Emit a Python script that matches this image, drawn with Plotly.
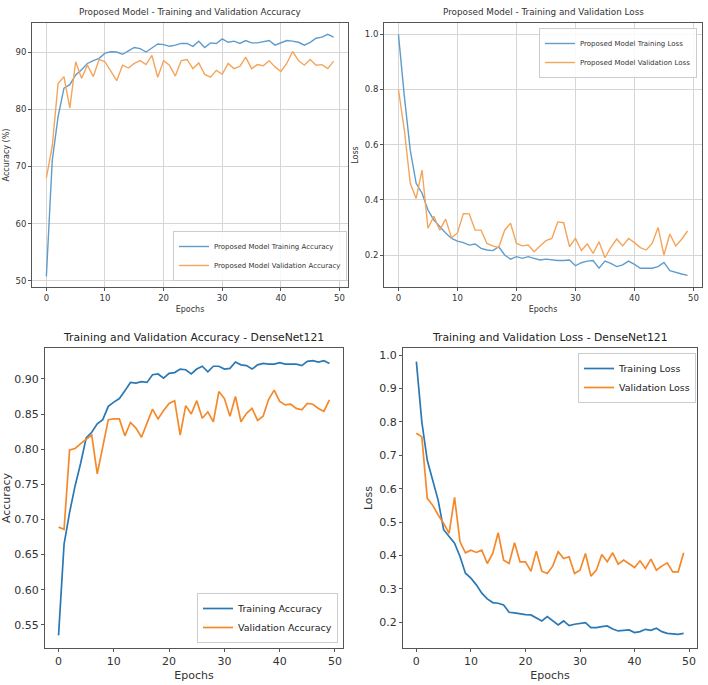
import plotly.graph_objects as go

epochs = list(range(50))

# Proposed model accuracy (%)
pm_train_acc = [50.8, 71.0, 78.7, 83.7, 84.3, 86.0, 86.9, 88.0, 88.5, 88.9,
                89.8, 90.05, 90.0, 89.6, 90.2, 90.8, 90.6, 90.0, 90.7, 91.4,
                91.3, 91.0, 91.2, 91.5, 91.5, 91.0, 91.9, 90.8, 91.6, 91.5,
                92.3, 91.7, 91.9, 91.5, 92.0, 91.6, 91.6, 91.8, 92.0, 91.2,
                91.6, 92.0, 91.9, 91.7, 91.2, 91.7, 92.4, 92.6, 93.1, 92.6]
pm_val_acc = [68.0, 73.5, 84.5, 85.7, 80.2, 88.3, 85.4, 87.7, 85.7, 88.7,
              88.3, 86.6, 85.0, 87.7, 87.2, 88.0, 88.5, 87.8, 89.4, 85.6,
              88.5, 87.7, 85.8, 88.5, 88.7, 87.1, 88.1, 86.1, 85.6, 86.8,
              86.1, 88.0, 87.1, 87.5, 89.1, 87.1, 87.8, 87.6, 88.5, 87.4,
              86.6, 88.0, 90.1, 88.5, 87.7, 88.7, 87.7, 87.8, 87.1, 88.4]

# Proposed model loss
pm_train_loss = [1.0, 0.775, 0.58, 0.46, 0.424, 0.363, 0.327, 0.303, 0.28, 0.26,
                 0.25, 0.245, 0.236, 0.24, 0.224, 0.218, 0.216, 0.23, 0.2, 0.185,
                 0.194, 0.188, 0.194, 0.188, 0.182, 0.185, 0.182, 0.18, 0.18, 0.182,
                 0.161, 0.172, 0.178, 0.18, 0.152, 0.178, 0.17, 0.158, 0.164, 0.178,
                 0.166, 0.152, 0.152, 0.152, 0.158, 0.173, 0.143, 0.136, 0.131, 0.126]
pm_val_loss = [0.8, 0.653, 0.46, 0.405, 0.508, 0.297, 0.34, 0.29, 0.33, 0.262,
               0.28, 0.35, 0.349, 0.29, 0.29, 0.242, 0.233, 0.227, 0.29, 0.315,
               0.242, 0.233, 0.236, 0.212, 0.233, 0.252, 0.26, 0.32, 0.317, 0.23,
               0.26, 0.216, 0.24, 0.206, 0.248, 0.19, 0.228, 0.258, 0.233, 0.26,
               0.245, 0.227, 0.218, 0.242, 0.3, 0.2, 0.276, 0.233, 0.257, 0.287]

# DenseNet121 accuracy
dn_train_acc = [0.535, 0.665, 0.71, 0.748, 0.78, 0.816, 0.824, 0.836, 0.842, 0.861,
                0.867, 0.872, 0.883, 0.895, 0.894, 0.896, 0.895, 0.906, 0.907, 0.901,
                0.908, 0.909, 0.914, 0.913, 0.907, 0.914, 0.918, 0.910, 0.918, 0.918,
                0.914, 0.915, 0.924, 0.920, 0.919, 0.914, 0.920, 0.922, 0.921, 0.921,
                0.923, 0.921, 0.921, 0.921, 0.919, 0.925, 0.926, 0.924, 0.926, 0.922]
dn_val_acc = [0.689, 0.686, 0.799, 0.801, 0.808, 0.814, 0.82, 0.765, 0.803, 0.842,
              0.843, 0.843, 0.819, 0.838, 0.83, 0.817, 0.837, 0.857, 0.843, 0.855,
              0.865, 0.869, 0.82, 0.862, 0.85, 0.869, 0.844, 0.853, 0.839, 0.882,
              0.872, 0.847, 0.875, 0.839, 0.851, 0.858, 0.841, 0.847, 0.871, 0.884,
              0.868, 0.863, 0.864, 0.858, 0.856, 0.865, 0.864, 0.858, 0.854, 0.870]

# DenseNet121 loss
dn_train_loss = [0.98, 0.80, 0.685, 0.625, 0.565, 0.477, 0.457, 0.437, 0.397, 0.347,
                 0.332, 0.312, 0.287, 0.27, 0.259, 0.257, 0.252, 0.23, 0.228, 0.225,
                 0.223, 0.222, 0.212, 0.204, 0.217, 0.205, 0.192, 0.204, 0.19, 0.194,
                 0.197, 0.199, 0.184, 0.184, 0.187, 0.189, 0.18, 0.174, 0.176, 0.177,
                 0.169, 0.172, 0.179, 0.176, 0.182, 0.172, 0.167, 0.165, 0.164, 0.167]
dn_val_loss = [0.766, 0.755, 0.571, 0.55, 0.521, 0.496, 0.466, 0.574, 0.441, 0.408,
               0.416, 0.409, 0.416, 0.376, 0.406, 0.468, 0.386, 0.376, 0.438, 0.381,
               0.381, 0.353, 0.413, 0.353, 0.346, 0.368, 0.411, 0.391, 0.396, 0.346,
               0.356, 0.406, 0.338, 0.356, 0.403, 0.381, 0.408, 0.374, 0.386, 0.374,
               0.364, 0.384, 0.361, 0.389, 0.356, 0.368, 0.378, 0.351, 0.351, 0.408]

W, H = 708, 685
def dx(a, b): return [a / W, b / W]
def dy(top, bottom): return [1 - bottom / H, 1 - top / H]

TOP_BLUE, TOP_ORANGE = "#5f9ccc", "#f5a55a"
BLUE, ORANGE = "#2a78b4", "#f5892a"
FONT = "DejaVu Sans"

fig = go.Figure()

def add(x, y, name, color, xa, ya, legend, width):
    fig.add_trace(go.Scatter(x=x, y=y, mode="lines", name=name,
                             line=dict(color=color, width=width),
                             xaxis=xa, yaxis=ya, legend=legend))

add(epochs, pm_train_acc, "Proposed Model Training Accuracy", TOP_BLUE, "x", "y", "legend", 1.4)
add(epochs, pm_val_acc, "Proposed Model Validation Accuracy", TOP_ORANGE, "x", "y", "legend", 1.4)
add(epochs, pm_train_loss, "Proposed Model Training Loss", TOP_BLUE, "x2", "y2", "legend2", 1.4)
add(epochs, pm_val_loss, "Proposed Model Validation Loss", TOP_ORANGE, "x2", "y2", "legend2", 1.4)
add(epochs, dn_train_acc, "Training Accuracy", BLUE, "x3", "y3", "legend3", 1.7)
add(epochs, dn_val_acc, "Validation Accuracy", ORANGE, "x3", "y3", "legend3", 1.7)
add(epochs, dn_train_loss, "Training Loss", BLUE, "x4", "y4", "legend4", 1.7)
add(epochs, dn_val_loss, "Validation Loss", ORANGE, "x4", "y4", "legend4", 1.7)

def axis(domain, anchor, rng, dtick, grid, fs, title, tickformat=None, tick0=None, tfs=None):
    d = dict(domain=domain, anchor=anchor, range=rng, dtick=dtick,
             showgrid=grid, gridcolor="#d6d6d6", gridwidth=1,
             showline=True, linecolor="#555555", linewidth=1, mirror=True,
             ticks="outside", ticklen=3, tickcolor="#555555",
             tickfont=dict(family=FONT, size=fs, color="#333333"),
             zeroline=False,
             title=dict(text=title, font=dict(family=FONT, size=tfs or fs, color="#333333"), standoff=4))
    if tickformat:
        d["tickformat"] = tickformat
    if tick0 is not None:
        d["tick0"] = tick0
    return d

top_y = (23, 287)
bot_y = (348, 648)

def legend(x, y, xanchor, yanchor, size, color):
    return dict(x=x, y=y, xanchor=xanchor, yanchor=yanchor,
                bgcolor="rgba(255,255,255,0.85)", bordercolor="#cccccc", borderwidth=1,
                font=dict(family=FONT, size=size, color=color), itemwidth=30,
                tracegroupgap=0)

fig.update_layout(
    width=W, height=H, margin=dict(l=0, r=0, t=0, b=0),
    paper_bgcolor="white", plot_bgcolor="white",
    font=dict(family=FONT),
    xaxis=axis(dx(32, 348), "y", [-2.45, 51.45], 10, True, 8.5, "Epochs", tfs=8),
    yaxis=axis(dy(*top_y), "x", [48.95, 95.07], 10, True, 8.5, "Accuracy (%)", tfs=8),
    xaxis2=axis(dx(384, 702), "y2", [-2.45, 51.45], 10, True, 8.5, "Epochs", tfs=8),
    yaxis2=axis(dy(*top_y), "x2", [0.084, 1.041], 0.2, True, 8.5, "Loss", ".1f", 0, tfs=8),
    xaxis3=axis(dx(45, 343), "y3", [-2.45, 51.45], 10, False, 11, "Epochs"),
    yaxis3=axis(dy(*bot_y), "x3", [0.517, 0.944], 0.05, False, 11, "Accuracy", ".2f", 0),
    xaxis4=axis(dx(403, 697), "y4", [-2.45, 51.45], 10, False, 11, "Epochs"),
    yaxis4=axis(dy(*bot_y), "x4", [0.123, 1.021], 0.1, False, 11, "Loss", ".1f", 0),
    legend=legend(347 / W, 1 - 281 / H, "right", "bottom", 7, "#333333"),
    legend2=legend(697 / W, 1 - 28 / H, "right", "top", 7, "#333333"),
    legend3=legend(338 / W, 1 - 643 / H, "right", "bottom", 9.5, "#222222"),
    legend4=legend(696 / W, 1 - 353 / H, "right", "top", 9.5, "#222222"),
    annotations=[
        dict(text="Proposed Model - Training and Validation Accuracy", x=190 / W, y=1 - 12 / H,
             xref="paper", yref="paper", showarrow=False, xanchor="center", yanchor="middle",
             font=dict(family=FONT, size=8.8, color="#333333")),
        dict(text="Proposed Model - Training and Validation Loss", x=543 / W, y=1 - 12 / H,
             xref="paper", yref="paper", showarrow=False, xanchor="center", yanchor="middle",
             font=dict(family=FONT, size=8.8, color="#333333")),
        dict(text="Training and Validation Accuracy - DenseNet121", x=194 / W, y=1 - 337 / H,
             xref="paper", yref="paper", showarrow=False, xanchor="center", yanchor="middle",
             font=dict(family=FONT, size=10.8, color="#222222")),
        dict(text="Training and Validation Loss - DenseNet121", x=550 / W, y=1 - 337 / H,
             xref="paper", yref="paper", showarrow=False, xanchor="center", yanchor="middle",
             font=dict(family=FONT, size=10.8, color="#222222")),
    ],
)

fig.write_html("out.html")
